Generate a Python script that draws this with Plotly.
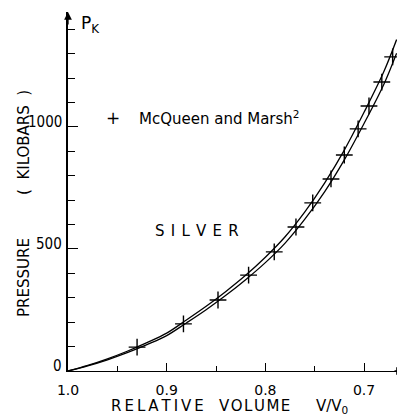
import plotly.graph_objects as go

# Curves (relative volume V/V0 vs pressure in kilobars)
curve_v = [1.0, 0.98, 0.96, 0.94, 0.92, 0.90, 0.88, 0.86, 0.84, 0.82, 0.80,
           0.78, 0.76, 0.74, 0.72, 0.70, 0.68, 0.667]
curve_upper_p = [0, 23, 50, 81, 116, 155, 209, 265, 326, 392, 466,
                 550, 652, 770, 905, 1060, 1226, 1358]
curve_lower_p = [0, 21, 46, 75, 108, 145, 197, 251, 310, 374, 444,
                 524, 622, 734, 865, 1014, 1174, 1302]

# McQueen and Marsh data points
mm_v = [0.930, 0.883, 0.848, 0.817, 0.791, 0.769, 0.752, 0.7335, 0.720,
        0.706, 0.695, 0.682, 0.671]
mm_p = [98, 193, 291, 393, 488, 590, 689, 787, 885, 992, 1086, 1184, 1287]

x_tickvals = [1.0, 0.9, 0.8, 0.7]
x_ticktext = ["1.0", "0.9", "0.8", "0.7"]
y_tickvals = [0, 500, 1000]
y_ticktext = ["0", "500", "1000"]

FONT = "DejaVu Sans"
FONT_C = "DejaVu Sans Condensed, DejaVu Sans"
OFF = 8  # page body margin
W, H = 397, 406
PLOT_L, PLOT_R, PLOT_T, PLOT_B = 68, 405, 12, 371  # page pixels
ML = PLOT_L - OFF
MT = PLOT_T - OFF
MR = W - (PLOT_R - OFF)
MB = H - (PLOT_B - OFF)
PW, PH = PLOT_R - PLOT_L, PLOT_B - PLOT_T
NB = "\u00a0"
TH = "\u2009"
HS = "\u200a"


def px(x):
    return (x - PLOT_L) / PW


def py(y):
    return (PLOT_B - y) / PH


def spaced(word, sep):
    return sep.join(list(word))


fig = go.Figure()
fig.add_trace(go.Scatter(x=curve_v, y=curve_upper_p, mode="lines",
                         line=dict(color="black", width=1.3, shape="spline"),
                         showlegend=False, hoverinfo="skip"))
fig.add_trace(go.Scatter(x=curve_v, y=curve_lower_p, mode="lines",
                         line=dict(color="black", width=1.3, shape="spline"),
                         showlegend=False, hoverinfo="skip"))
fig.add_trace(go.Scatter(x=mm_v, y=mm_p, mode="markers",
                         marker=dict(symbol="cross-thin", size=12,
                                     line=dict(color="black", width=1.4)),
                         showlegend=False))

fig.update_layout(
    width=W, height=H,
    margin=dict(l=ML, r=MR, t=MT, b=MB, pad=0),
    paper_bgcolor="white", plot_bgcolor="white",
    font=dict(family=FONT, color="black", size=14),
    xaxis=dict(range=[1.0, 0.6585], showgrid=False, zeroline=False,
               showline=True, linecolor="black", linewidth=1.3,
               tickmode="array", tickvals=x_tickvals, ticktext=x_ticktext,
               ticks="inside", ticklen=8, tickwidth=1.2, tickcolor="black",
               ticklabelstandoff=6,
               tickfont=dict(size=14, family=FONT),
               minor=dict(dtick=0.05, tick0=1.0, ticks="inside", ticklen=5,
                          tickwidth=1.2, tickcolor="black")),
    yaxis=dict(range=[0, 1471], showgrid=False, zeroline=False,
               showline=True, linecolor="black", linewidth=1.5,
               tickmode="array", tickvals=y_tickvals,
               showticklabels=False,
               ticks="inside", ticklen=10, tickwidth=1.2, tickcolor="black",
               minor=dict(dtick=100, tick0=0, ticks="inside", ticklen=7,
                          tickwidth=1.2, tickcolor="black")),
)

# y tick labels, sitting slightly above their ticks
for v, t in zip(y_tickvals, y_ticktext):
    fig.add_annotation(x=0, y=v, xref="paper", yref="y", text=t,
                       showarrow=False, xanchor="right", yanchor="middle",
                       xshift=-4, yshift=5,
                       font=dict(size=15, family=FONT_C))

# axis arrows
fig.add_annotation(x=1, y=0, xref="paper", yref="paper", ax=-12, ay=0,
                   text="", showarrow=True,
                   arrowhead=2, arrowsize=1.2, arrowwidth=1.3, arrowcolor="black")
fig.add_annotation(x=0, y=1, xref="paper", yref="paper", ax=0, ay=14,
                   text="", showarrow=True,
                   arrowhead=2, arrowsize=1.2, arrowwidth=1.3, arrowcolor="black")

# texts
fig.add_annotation(x=px(79), y=py(24), xref="paper", yref="paper",
                   text="P<sub>K</sub>",
                   showarrow=False, xanchor="left", yanchor="middle",
                   font=dict(size=17, family=FONT))
# x-axis title
fig.add_annotation(x=px(109), y=py(406), xref="paper", yref="paper",
                   text=spaced("RELATIVE", TH),
                   showarrow=False, xanchor="left", yanchor="middle",
                   font=dict(size=15, family=FONT))
fig.add_annotation(x=px(217), y=py(406), xref="paper", yref="paper",
                   text=spaced("VOLUME", HS),
                   showarrow=False, xanchor="left", yanchor="middle",
                   font=dict(size=15, family=FONT))
fig.add_annotation(x=px(314), y=py(406), xref="paper", yref="paper",
                   text="V/V<sub>0</sub>",
                   showarrow=False, xanchor="left", yanchor="middle",
                   font=dict(size=15, family=FONT))
# y-axis title
fig.add_annotation(x=px(24), y=py(277), xref="paper", yref="paper",
                   text="PRESSURE", textangle=-90,
                   showarrow=False, xanchor="center", yanchor="middle",
                   font=dict(size=15, family=FONT))
fig.add_annotation(x=px(24), y=py(142), xref="paper", yref="paper",
                   text="(" + NB * 2 + "KILOBARS" + NB * 2 + ")", textangle=-90,
                   showarrow=False, xanchor="center", yanchor="middle",
                   font=dict(size=15, family=FONT))
# legend-like note
fig.add_annotation(x=px(113), y=py(118), xref="paper", yref="paper",
                   text="+",
                   showarrow=False, xanchor="center", yanchor="middle",
                   font=dict(size=17, family=FONT))
fig.add_annotation(x=px(137), y=py(118), xref="paper", yref="paper",
                   text="McQueen and Marsh<sup>2</sup>",
                   showarrow=False, xanchor="left", yanchor="middle",
                   font=dict(size=15, family=FONT))
fig.add_annotation(x=px(153), y=py(231), xref="paper", yref="paper",
                   text=spaced("SILVER", NB + HS),
                   showarrow=False, xanchor="left", yanchor="middle",
                   font=dict(size=15, family=FONT))

fig.write_html("out.html")
